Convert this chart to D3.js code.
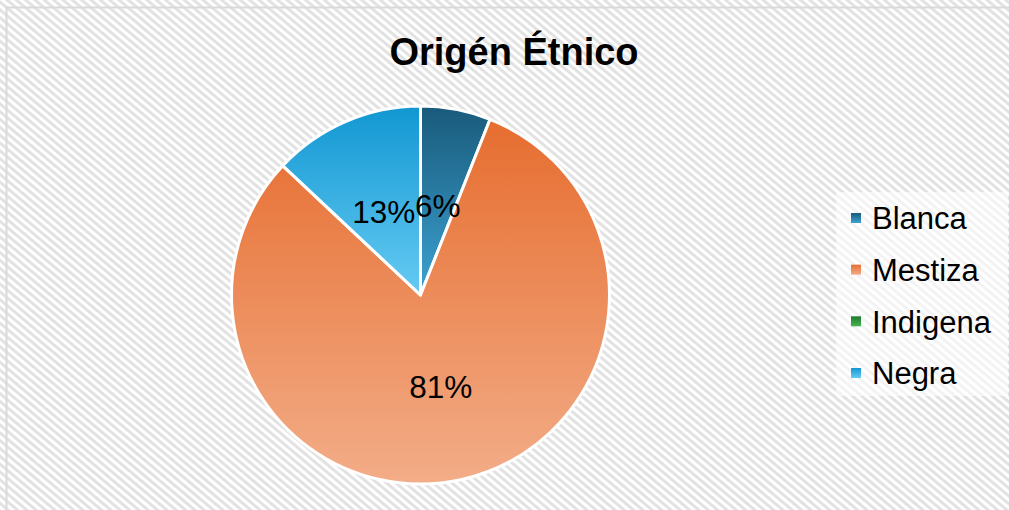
<!DOCTYPE html>
<html>
<head>
<meta charset="utf-8">
<script src="https://cdn.jsdelivr.net/npm/d3@7"></script>
<style>
  body { margin: 0; background: #fff; }
  svg { display: block; font-family: "Liberation Sans", Arial, sans-serif; }
</style>
</head>
<body>
<svg id="chart" width="1009" height="510"></svg>
<script>
// data
const categories = ["Blanca", "Mestiza", "Indigena", "Negra"];
const values = [6, 81, 0, 13];
const topColors = ["#195a7b", "#e66d2f", "#1f7a2c", "#1297d2"];
const bottomColors = ["#3ca2d2", "#f3ad88", "#48b455", "#65cbf3"];

const svg = d3.select("#chart");
const defs = svg.append("defs");

// diagonal hatch background, stripes running down to the right
let pat = defs.append("pattern")
    .attr("id", "hatch")
    .attr("patternUnits", "userSpaceOnUse")
    .attr("width", 6).attr("height", 6)
    .attr("patternTransform", "rotate(40)");
pat.append("rect").attr("width", 6).attr("height", 6).attr("fill", "#ffffff");
pat.append("rect").attr("width", 6).attr("height", 3).attr("fill", "#e2e2e2");

svg.append("rect")
    .attr("width", 1009).attr("height", 510)
    .attr("fill", "url(#hatch)");

// chart border (only left/top visible in frame)
svg.append("rect")
    .attr("x", 6.5).attr("y", 7.5)
    .attr("width", 1020).attr("height", 520)
    .attr("fill", "none")
    .attr("stroke", "#d9d9d9")
    .attr("stroke-width", 2);

// one vertical gradient per category
categories.forEach(function(c, i) {
    let g = defs.append("linearGradient")
        .attr("id", "grad" + i)
        .attr("x1", 0).attr("y1", 0).attr("x2", 0).attr("y2", 1);
    g.append("stop").attr("offset", "0%").attr("stop-color", topColors[i]);
    g.append("stop").attr("offset", "100%").attr("stop-color", bottomColors[i]);
});

// title
svg.append("text")
    .attr("x", 514).attr("y", 65)
    .attr("text-anchor", "middle")
    .style("font-size", "38px")
    .style("font-weight", "bold")
    .attr("fill", "#000")
    .text("Origén Étnico");

// pie
const cx = 420.5, cy = 295, radius = 189;
let pie = d3.pie().sort(null).value(function(d) { return d; });
let arcs = pie(values);
let arc = d3.arc().innerRadius(0).outerRadius(radius);
let labelArc = d3.arc().innerRadius(radius * 0.49).outerRadius(radius * 0.49);
let total = d3.sum(values);

let g = svg.append("g").attr("transform", "translate(" + cx + "," + cy + ")");

g.selectAll("path")
    .data(arcs)
    .enter().append("path")
    .attr("d", arc)
    .attr("fill", function(d, i) { return "url(#grad" + i + ")"; })
    .attr("stroke", "#fff")
    .attr("stroke-width", 3)
    .attr("stroke-linejoin", "round");

g.selectAll("text")
    .data(arcs.filter(function(d) { return d.value > 0; }))
    .enter().append("text")
    .attr("transform", function(d) { return "translate(" + labelArc.centroid(d) + ")"; })
    .attr("text-anchor", "middle")
    .attr("dy", "0.4em")
    .style("font-size", "31.5px")
    .attr("fill", "#000")
    .text(function(d) { return Math.round(d.value / total * 100) + "%"; });

// legend
let legend = svg.append("g");
legend.append("rect")
    .attr("x", 836).attr("y", 192)
    .attr("width", 172).attr("height", 204)
    .attr("fill", "#fff").attr("opacity", 0.6);

let rowY = d3.scalePoint().domain(categories).range([218, 373]);

let items = legend.selectAll("g.item")
    .data(categories)
    .enter().append("g")
    .attr("class", "item")
    .attr("transform", function(d) { return "translate(851," + rowY(d) + ")"; });

items.append("rect")
    .attr("x", 0).attr("y", -5)
    .attr("width", 10).attr("height", 10)
    .attr("fill", function(d, i) { return "url(#grad" + i + ")"; });

items.append("text")
    .attr("x", 21).attr("dy", "0.36em")
    .style("font-size", "31px")
    .attr("fill", "#000")
    .text(function(d) { return d; });
</script>
</body>
</html>
